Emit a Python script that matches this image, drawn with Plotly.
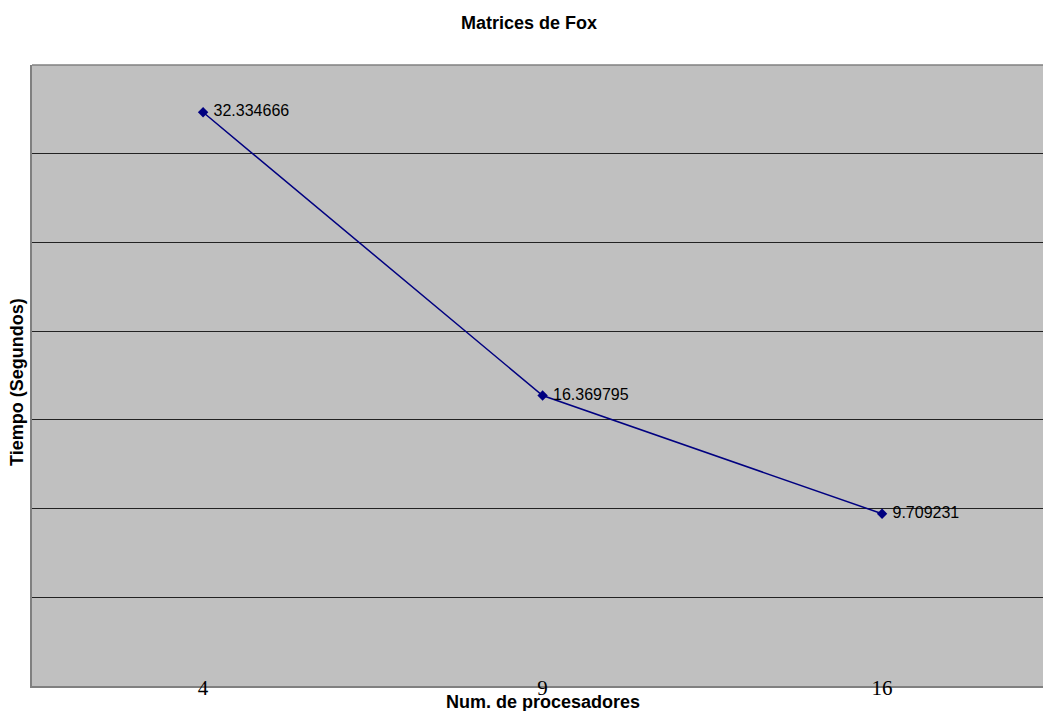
import plotly.graph_objects as go

# Execution time of Fox's matrix multiplication vs. number of processors
procesadores = ["4", "9", "16"]
tiempos = [32.334666, 16.369795, 9.709231]
etiquetas = ["32.334666", "16.369795", "9.709231"]

W, H = 1043, 711
L, T, B = 32, 65, 25
PW, PH = W - L, H - T - B

fig = go.Figure()
fig.add_trace(go.Scatter(
    x=procesadores,
    y=tiempos,
    mode="lines+markers+text",
    line=dict(color="#000080", width=1.5),
    marker=dict(symbol="diamond", size=8, color="#000080"),
    text=[" " + t for t in etiquetas],
    textposition="middle right",
    textfont=dict(family="Liberation Sans, Arial", size=16, color="#000000"),
    cliponaxis=False,
    showlegend=False,
))

fig.update_layout(
    width=W,
    height=H,
    autosize=False,
    margin=dict(l=L, r=0, t=T, b=B, pad=0),
    paper_bgcolor="#FFFFFF",
    plot_bgcolor="#C0C0C0",
    showlegend=False,
    xaxis=dict(
        type="category",
        range=[-0.504, 2.474],
        showgrid=False,
        zeroline=False,
        showline=True,
        linecolor="#808080",
        linewidth=1.5,
        mirror=False,
        ticks="",
        tickfont=dict(family="Liberation Serif, Times New Roman", size=21, color="#000000"),
        ticklabelstandoff=-18,
    ),
    yaxis=dict(
        range=[0, 35],
        dtick=5,
        showgrid=True,
        gridcolor="#222222",
        gridwidth=1,
        zeroline=False,
        showline=True,
        linecolor="#808080",
        linewidth=1.5,
        mirror=False,
        ticks="",
        showticklabels=False,
    ),
    shapes=[
        # top border of the plot area (the right edge runs off the page)
        dict(type="line", xref="paper", yref="paper", x0=0, x1=1, y0=1, y1=1,
             line=dict(color="#808080", width=1.5)),
    ],
    annotations=[
        dict(text="<b>Matrices de Fox</b>", xref="paper", yref="paper",
             x=(529 - L) / PW, y=1 + (T - 23) / PH,
             xanchor="center", yanchor="middle", showarrow=False,
             font=dict(family="Liberation Sans, Arial", size=18, color="#000000")),
        dict(text="<b>Num. de procesadores</b>", xref="paper", yref="paper",
             x=(543 - L) / PW, y=-(702 - (H - B)) / PH,
             xanchor="center", yanchor="middle", showarrow=False,
             font=dict(family="Liberation Sans, Arial", size=18, color="#000000")),
        dict(text="<b>Tiempo (Segundos)</b>", xref="paper", yref="paper",
             x=-(L - 17) / PW, y=1 - (382 - T) / PH, textangle=-90,
             xanchor="center", yanchor="middle", showarrow=False,
             font=dict(family="Liberation Sans, Arial", size=18, color="#000000")),
    ],
)

fig.write_html("out.html")
